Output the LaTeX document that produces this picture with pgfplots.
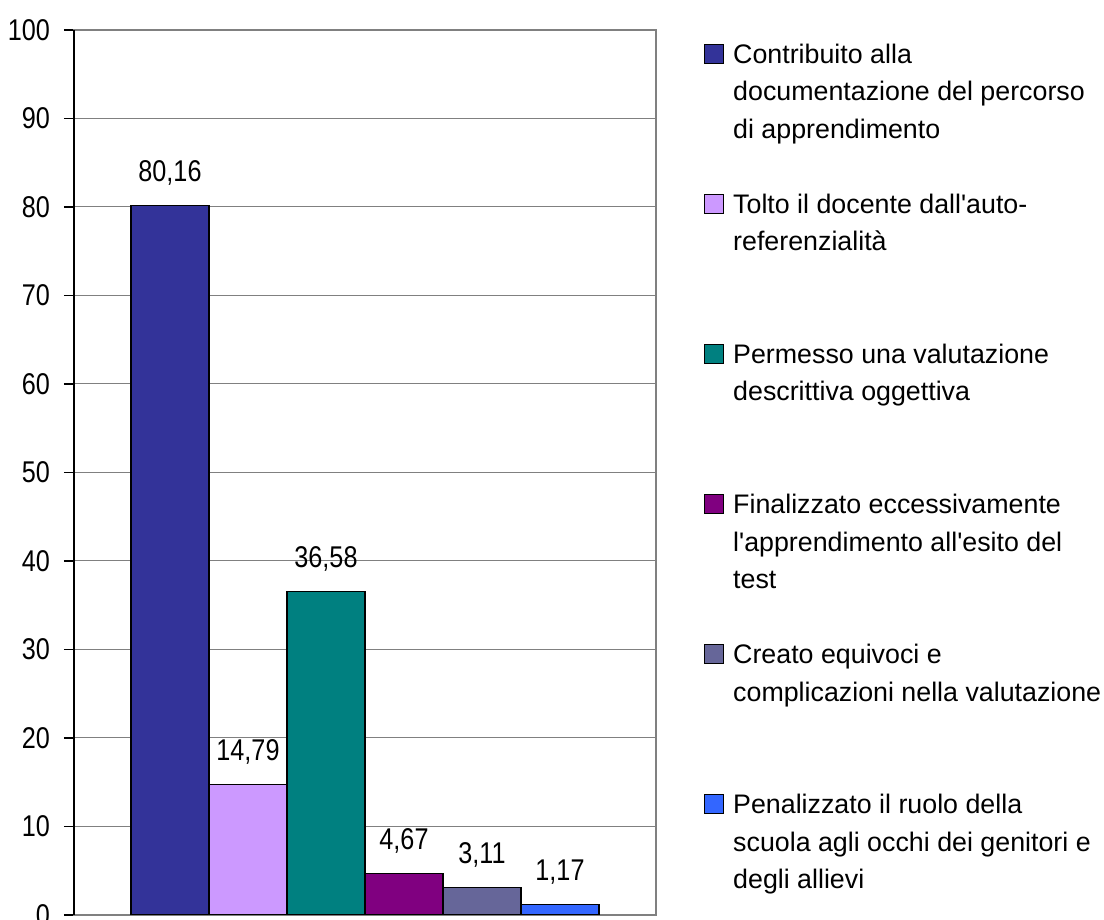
\documentclass[border=0pt]{standalone}
\usepackage{pgfplots}
\pgfplotsset{compat=1.18}
\usepackage{fontspec}
\setmainfont{Liberation Sans}[Ligatures=TeXOff]
\newfontfamily\numfont{Liberation Sans}[FakeStretch=0.84]
\definecolor{cA}{HTML}{333399}
\definecolor{cB}{HTML}{CC99FF}
\definecolor{cC}{HTML}{008080}
\definecolor{cD}{HTML}{800080}
\definecolor{cE}{HTML}{666699}
\definecolor{cF}{HTML}{3366FF}
\pgfplotsset{
  sqlegend/.style={legend image code/.code={%
    \path[draw=none, fill=none] (0bp,-61.9bp) rectangle (9.5bp,13.1bp);
    \draw[##1, line width=0.6bp] (0bp,0bp) rectangle (9.5bp,9.5bp);}},
}
\newcommand{\entry}[1]{\parbox[t]{200bp}{\raggedright\strut #1}}
\begin{document}
\begin{tikzpicture}
\begin{axis}[
  at={(37bp,2.5bp)}, anchor=south west,
  scale only axis, width=291bp, height=442.5bp,
  ybar=0pt, bar width=39bp,
  xmin=-1, xmax=1, ymin=0, ymax=100,
  ytick={0,10,...,100},
  xtick=\empty,
  ymajorgrids,
  grid style={draw=gray, line width=0.5bp},
  axis line style={draw=gray, line width=0.6bp},
  ytick pos=left, tick align=outside, major tick length=5bp,
  y tick style={black, line width=0.6bp},
  /pgf/number format/assume math mode=true,
  yticklabel style={font=\fontsize{15bp}{18bp}\numfont, xshift=-3.5bp},
  nodes near coords={\pgfmathprintnumber[fixed,fixed zerofill,precision=2,use comma,assume math mode=true]{\pgfplotspointmeta}},
  every node near coord/.append style={font=\fontsize{15bp}{18bp}\numfont, anchor=base, yshift=12bp, inner sep=0pt, black},
  legend style={at={(axis description cs:1.0825,0.9923)}, anchor=north west, draw=none, fill=none,
    inner sep=0pt, outer sep=0pt, row sep=0pt,
    font=\fontsize{13.4bp}{18.8bp}\selectfont,
    nodes={inner sep=0pt, anchor=base west},
    /tikz/every odd column/.append style={column sep=4.5bp}},
  legend cell align=left,
  extra description/.code={\draw[black, line width=0.6bp] (rel axis cs:0,0) -- (rel axis cs:0,1);},
]
\addplot[fill=cA, draw=black, line width=0.6bp, sqlegend] coordinates {(0,80.16)};
\addlegendentry{\entry{Contribuito alla\\documentazione del percorso\\di apprendimento}}
\addplot[fill=cB, draw=black, line width=0.6bp, sqlegend] coordinates {(0,14.79)};
\addlegendentry{\entry{Tolto il docente dall'auto-\\referenzialità}}
\addplot[fill=cC, draw=black, line width=0.6bp, sqlegend] coordinates {(0,36.58)};
\addlegendentry{\entry{Permesso una valutazione\\descrittiva oggettiva}}
\addplot[fill=cD, draw=black, line width=0.6bp, sqlegend] coordinates {(0,4.67)};
\addlegendentry{\entry{Finalizzato eccessivamente\\l'apprendimento all'esito del\\test}}
\addplot[fill=cE, draw=black, line width=0.6bp, sqlegend] coordinates {(0,3.11)};
\addlegendentry{\entry{Creato equivoci e\\complicazioni nella valutazione}}
\addplot[fill=cF, draw=black, line width=0.6bp, sqlegend] coordinates {(0,1.17)};
\addlegendentry{\entry{Penalizzato il ruolo della\\scuola agli occhi dei genitori e\\degli allievi}}
\end{axis}
\pgfresetboundingbox
\useasboundingbox (0,0) rectangle (552bp,460bp);
\end{tikzpicture}
\end{document}
